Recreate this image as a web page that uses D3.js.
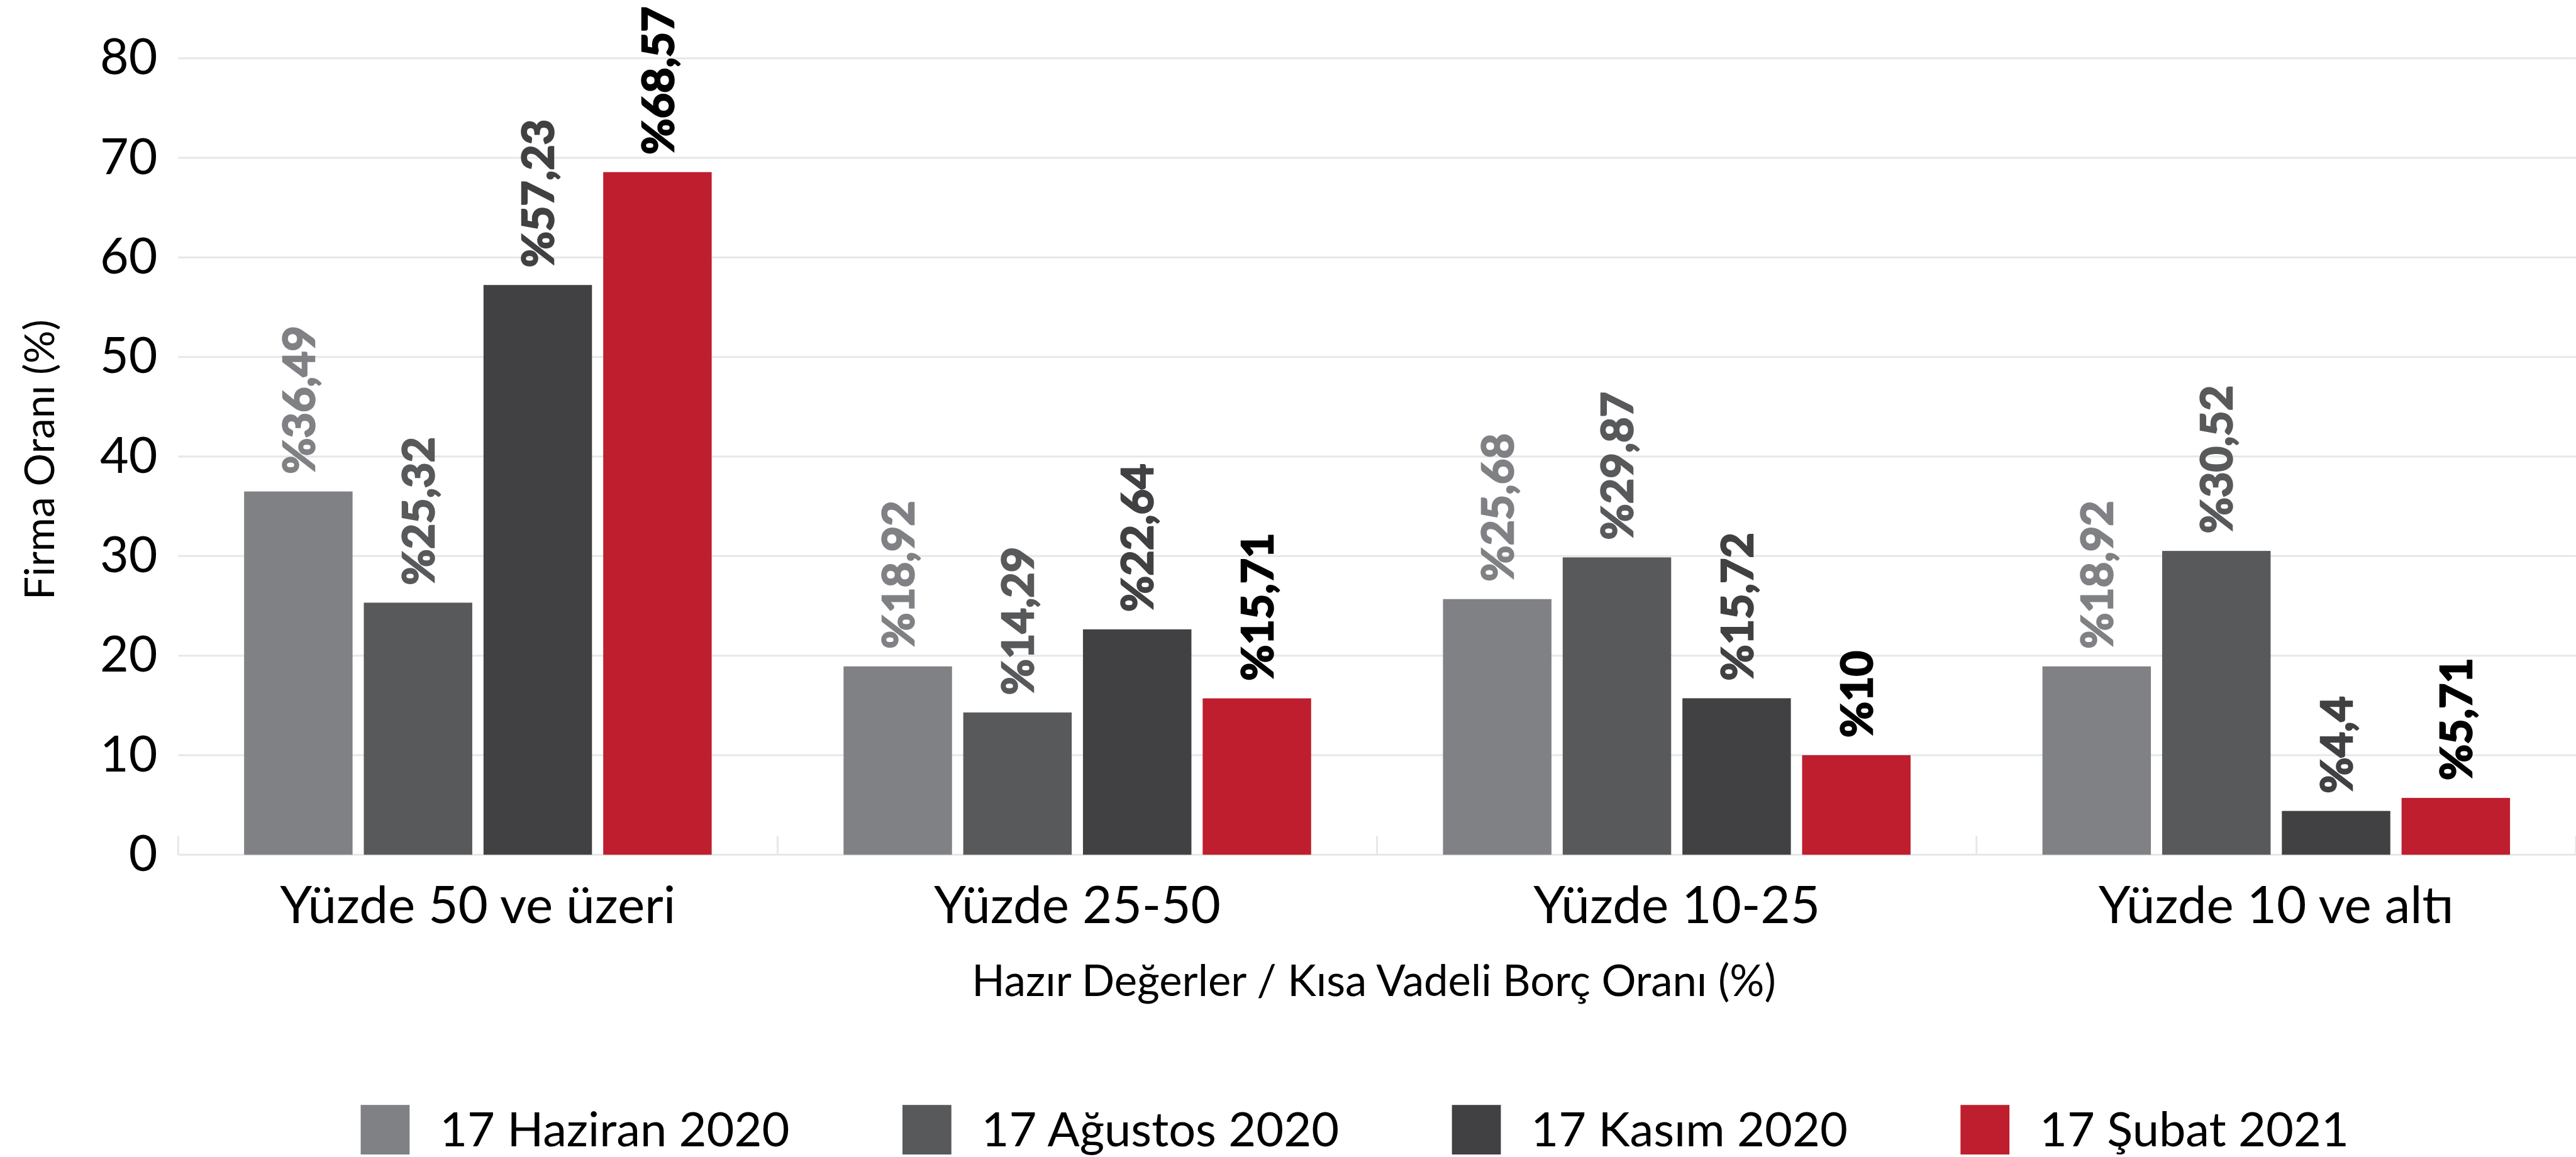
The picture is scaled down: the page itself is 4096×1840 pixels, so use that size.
<!DOCTYPE html>
<meta charset="utf-8">
<title>Firma Oranı</title>
<style>
  body { margin: 0; background: #fff; }
  text { font-family: Lato, "Open Sans", sans-serif; }
  .grid line { stroke: #e6e7e8; stroke-width: 3px; }
  .bar-label { font-weight: 700; font-size: 70px; stroke-width: 2.5px; }
</style>
<body>
<script src="https://d3js.org/d3.v7.min.js"></script>
<script>

var categories = ["Yüzde 50 ve üzeri", "Yüzde 25-50", "Yüzde 10-25", "Yüzde 10 ve altı"];
var seriesNames = ["17 Haziran 2020", "17 Ağustos 2020", "17 Kasım 2020", "17 Şubat 2021"];
var haziran = [36.49, 18.92, 25.68, 18.92];
var agustos = [25.32, 14.29, 29.87, 30.52];
var kasim = [57.23, 22.64, 15.72, 4.4];
var subat = [68.57, 15.71, 10, 5.71];
var yTicks = [0, 10, 20, 30, 40, 50, 60, 70, 80];

var barColors = ["#808184", "#58595b", "#414042", "#be1e2d"];
var labelColors = ["#808184", "#58595b", "#414042", "#000000"];

// reference size, scaled down by the viewBox
var W = 4107, H = 1845;
var plotLeft = 284, plotRight = 4107, plotTop = 93, plotBottom = 1363;

var svg = d3.select("body").append("svg")
  .attr("width", 4096)
  .attr("height", 1840)
  .attr("viewBox", "0 0 " + W + " " + H);

var allSeries = [haziran, agustos, kasim, subat];
var data = categories.map(function(c, i) {
  return { cat: c, values: allSeries.map(function(s, j) { return { key: seriesNames[j], idx: j, value: s[i] }; }) };
});

var y = d3.scaleLinear().domain([0, 80]).range([plotBottom, plotTop]);

var x0 = d3.scaleBand().domain(categories).range([plotLeft, plotRight])
  .paddingInner(0.22).paddingOuter(0.11);
var x1 = d3.scaleBand().domain(seriesNames).range([0, x0.bandwidth()])
  .paddingInner(0.094);

// gridlines
svg.append("g").attr("class", "grid")
  .selectAll("line").data(yTicks).enter().append("line")
  .attr("x1", plotLeft).attr("x2", plotRight)
  .attr("y1", function(d) { return y(d); })
  .attr("y2", function(d) { return y(d); });

// small separators on the base line
var step = x0.step();
var seps = d3.range(categories.length + 1).map(function(i) { return plotLeft + i * step; });
svg.append("g").selectAll("line").data(seps).enter().append("line")
  .attr("x1", function(d) { return d; }).attr("x2", function(d) { return d; })
  .attr("y1", plotBottom).attr("y2", plotBottom - 30)
  .attr("stroke", "#e6e7e8").attr("stroke-width", 3);

// y axis labels
var yAxis = d3.axisLeft(y).tickValues(yTicks).tickSize(0).tickPadding(0);
var yg = svg.append("g").attr("transform", "translate(251,0)").call(yAxis);
yg.select(".domain").remove();
yg.selectAll("text")
  .attr("font-family", "Lato, sans-serif")
  .attr("font-size", 79)
  .attr("fill", "#000");

// x axis labels
var xAxis = d3.axisBottom(x0).tickSize(0).tickPadding(0);
var xg = svg.append("g").call(xAxis);
xg.select(".domain").remove();
xg.selectAll("text")
  .attr("y", 1472).attr("dy", null)
  .attr("font-family", "Lato, sans-serif")
  .attr("font-size", 82)
  .attr("fill", "#000");

// bars
var groups = svg.append("g").selectAll("g").data(data).enter().append("g")
  .attr("transform", function(d) { return "translate(" + x0(d.cat) + ",0)"; });

groups.selectAll("rect").data(function(d) { return d.values; }).enter().append("rect")
  .attr("x", function(d) { return x1(d.key); })
  .attr("y", function(d) { return y(d.value); })
  .attr("width", x1.bandwidth())
  .attr("height", function(d) { return y(0) - y(d.value); })
  .attr("fill", function(d) { return barColors[d.idx]; });

groups.selectAll("text").data(function(d) { return d.values; }).enter().append("text")
  .attr("class", "bar-label")
  .attr("transform", function(d) {
    return "translate(" + (x1(d.key) + x1.bandwidth() / 2) + "," + (y(d.value) - 28) + ") rotate(-90)";
  })
  .attr("dy", "0.36em")
  .attr("fill", function(d) { return labelColors[d.idx]; })
  .attr("stroke", function(d) { return labelColors[d.idx]; })
  .text(function(d) { return "%" + String(d.value).replace(".", ","); });

// axis titles
svg.append("text")
  .attr("transform", "translate(86,733) rotate(-90)")
  .attr("text-anchor", "middle")
  .attr("font-size", 66)
  .text("Firma Oranı (%)");

svg.append("text")
  .attr("x", (plotLeft + plotRight) / 2 - 5)
  .attr("y", 1588)
  .attr("text-anchor", "middle")
  .attr("font-size", 69)
  .text("Hazır Değerler / Kısa Vadeli Borç Oranı (%)");

// legend
var legend = svg.append("g");
var lx = 575;
seriesNames.forEach(function(name, i) {
  legend.append("rect")
    .attr("x", lx).attr("y", 1762)
    .attr("width", 78).attr("height", 79)
    .attr("fill", barColors[i]);
  var t = legend.append("text")
    .attr("x", lx + 126).attr("y", 1828)
    .attr("font-size", 76)
    .text(name);
  lx += 126 + t.node().getComputedTextLength() + 180;
});

</script>
</body>
